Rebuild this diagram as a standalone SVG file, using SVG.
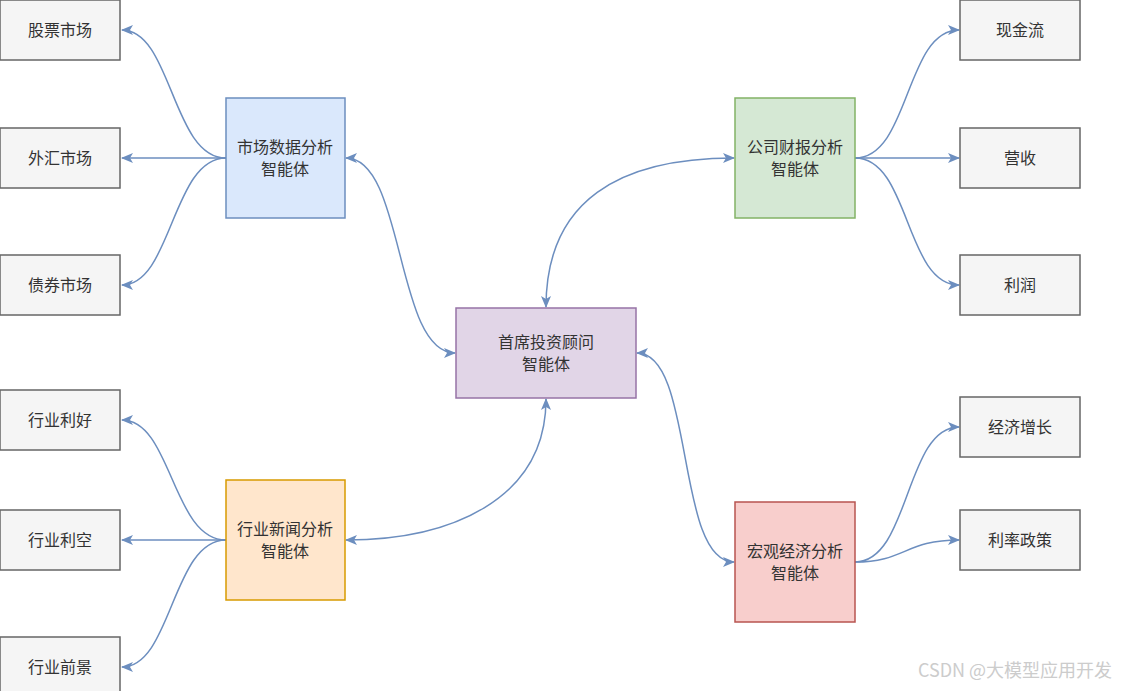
<svg xmlns="http://www.w3.org/2000/svg" width="1137" height="691" viewBox="0 0 1137 691">
<style>
text{font-family:"Noto Sans CJK SC","Liberation Sans",sans-serif;font-size:16px;fill:#333;text-anchor:middle}
.leaf{fill:#f5f5f5;stroke:#666;stroke-width:1.5}
.c path{fill:none;stroke:#6c8ebf;stroke-width:1.5}
</style>
<defs>
<marker id="a" viewBox="0 0 12 10" refX="11" refY="5" markerWidth="12" markerHeight="10" markerUnits="userSpaceOnUse" orient="auto-start-reverse">
<path d="M0,0 L12,5 L0,10 L3,5 Z" fill="#6c8ebf"/>
</marker>
</defs>
<rect width="1137" height="691" fill="#fff"/>
<g class="c" id="connectors">
<path d="M226,158 C172,158 172,30 122,30" marker-end="url(#a)"/>
<path d="M226,158 L122,158" marker-end="url(#a)"/>
<path d="M226,158 C172,158 172,285 122,285" marker-end="url(#a)"/>
<path d="M226,540 C172,540 172,420 122,420" marker-end="url(#a)"/>
<path d="M226,540 L122,540" marker-end="url(#a)"/>
<path d="M226,540 C172,540 172,667 122,667" marker-end="url(#a)"/>
<path d="M855,158 C910,158 905,30 959,30" marker-end="url(#a)"/>
<path d="M855,158 L959,158" marker-end="url(#a)"/>
<path d="M855,158 C910,158 905,285 959,285" marker-end="url(#a)"/>
<path d="M855,562 C910,562 905,427 959,427" marker-end="url(#a)"/>
<path d="M855,562 C905,562 905,540 959,540" marker-end="url(#a)"/>
<path d="M346,158 C405,158 395,353 455,353" marker-start="url(#a)" marker-end="url(#a)"/>
<path d="M546,307 C546,200 620,158 734,158" marker-start="url(#a)" marker-end="url(#a)"/>
<path d="M546,399 C546,500 450,540 346,540" marker-start="url(#a)" marker-end="url(#a)"/>
<path d="M637,353 C695,353 675,562 734,562" marker-start="url(#a)" marker-end="url(#a)"/>
</g>
<g id="n-stock"><rect class="leaf" x="0" y="0" width="120" height="60"/><text x="60" y="36">股票市场</text></g>
<g id="n-fx"><rect class="leaf" x="0" y="128" width="120" height="60"/><text x="60" y="164">外汇市场</text></g>
<g id="n-bond"><rect class="leaf" x="0" y="255" width="120" height="60"/><text x="60" y="291">债券市场</text></g>
<g id="n-good"><rect class="leaf" x="0" y="390" width="120" height="60"/><text x="60" y="426">行业利好</text></g>
<g id="n-bad"><rect class="leaf" x="0" y="510" width="120" height="60"/><text x="60" y="546">行业利空</text></g>
<g id="n-prospect"><rect class="leaf" x="0" y="637" width="120" height="60"/><text x="60" y="673">行业前景</text></g>
<g id="n-cash"><rect class="leaf" x="960" y="0" width="120" height="60"/><text x="1020" y="36">现金流</text></g>
<g id="n-rev"><rect class="leaf" x="960" y="128" width="120" height="60"/><text x="1020" y="164">营收</text></g>
<g id="n-profit"><rect class="leaf" x="960" y="255" width="120" height="60"/><text x="1020" y="291">利润</text></g>
<g id="n-growth"><rect class="leaf" x="960" y="397" width="120" height="60"/><text x="1020" y="433">经济增长</text></g>
<g id="n-rate"><rect class="leaf" x="960" y="510" width="120" height="60"/><text x="1020" y="546">利率政策</text></g>
<g id="n-market"><rect x="226" y="98" width="119" height="120" fill="#dae8fc" stroke="#6c8ebf" stroke-width="1.5"/><text x="285" y="153">市场数据分析</text><text x="285" y="175">智能体</text></g>
<g id="n-company"><rect x="735" y="98" width="120" height="120" fill="#d5e8d4" stroke="#82b366" stroke-width="1.5"/><text x="795" y="153">公司财报分析</text><text x="795" y="175">智能体</text></g>
<g id="n-industry"><rect x="226" y="480" width="119" height="120" fill="#ffe6cc" stroke="#d79b00" stroke-width="1.5"/><text x="285" y="535">行业新闻分析</text><text x="285" y="557">智能体</text></g>
<g id="n-macro"><rect x="735" y="502" width="120" height="120" fill="#f8cecc" stroke="#b85450" stroke-width="1.5"/><text x="795" y="557">宏观经济分析</text><text x="795" y="579">智能体</text></g>
<g id="n-chief"><rect x="456" y="308" width="180" height="90" fill="#e1d5e7" stroke="#9673a6" stroke-width="1.5"/><text x="546" y="348">首席投资顾问</text><text x="546" y="370">智能体</text></g>
<text x="1015" y="677" style="font-size:18px;fill:#ccc">CSDN @大模型应用开发</text>
</svg>
